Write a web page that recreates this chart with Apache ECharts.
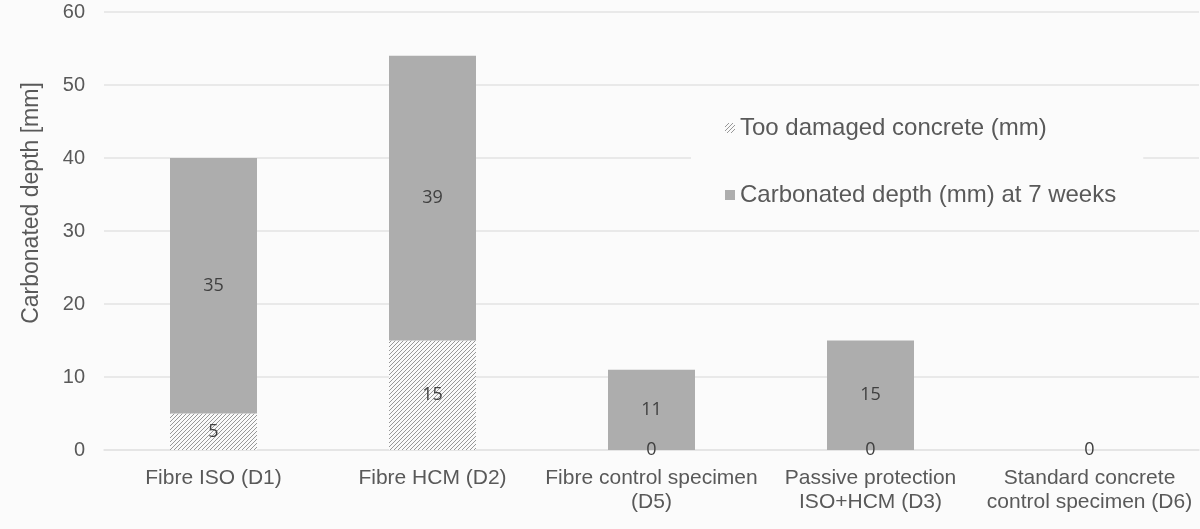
<!DOCTYPE html>
<html>
<head>
<meta charset="utf-8">
<script src="https://cdn.jsdelivr.net/npm/echarts@6/dist/echarts.min.js"></script>
<style>
html,body{margin:0;padding:0;background:#fbfbfb;}
#c{width:1200px;height:529px;}
</style>
</head>
<body>
<div id="c"></div>
<script>
const categories = ['Fibre ISO (D1)', 'Fibre HCM (D2)', 'Fibre control specimen\n(D5)', 'Passive protection\nISO+HCM (D3)', 'Standard concrete\ncontrol specimen (D6)'];
const damagedValues = [5, 15, 0, 0, 0];
const carbonatedValues = [35, 39, 11, 15, 0];
const seriesNames = ['Too damaged concrete (mm)', 'Carbonated depth (mm) at 7 weeks'];
const yTicks = {min: 0, max: 60, interval: 10};

function hatch() {
  const c = document.createElement('canvas');
  c.width = 4; c.height = 4;
  const g = c.getContext('2d');
  g.fillStyle = '#fafafa';
  g.fillRect(0, 0, 4, 4);
  g.strokeStyle = '#8c8c8c';
  g.lineWidth = 0.9;
  g.beginPath();
  g.moveTo(-1, 5); g.lineTo(5, -1);
  g.moveTo(-1, 1); g.lineTo(1, -1);
  g.moveTo(3, 5); g.lineTo(5, 3);
  g.stroke();
  return c;
}

const chart = echarts.init(document.getElementById('c'));
const labelStyle = {show: true, position: 'inside', color: '#404040', fontSize: 18, fontFamily: 'Open Sans'};
chart.setOption({
  backgroundColor: '#fbfbfb',
  animation: false,
  grid: {left: 104, right: 1, top: 12, bottom: 79},
  legend: {
    orient: 'vertical',
    left: 691, top: 100,
    padding: [16, 27, 10, 34],
    backgroundColor: '#fbfbfb',
    itemGap: 43,
    itemWidth: 10, itemHeight: 10,
    icon: 'rect',
    textStyle: {fontSize: 24, color: '#595959', fontFamily: 'Liberation Sans'},
    data: seriesNames
  },
  xAxis: {
    type: 'category',
    data: categories,
    axisTick: {show: false},
    axisLine: {lineStyle: {color: '#e3e3e3', width: 1.5}},
    axisLabel: {color: '#595959', fontSize: 21, fontFamily: 'Liberation Sans', lineHeight: 24, margin: 16, interval: 0}
  },
  yAxis: {
    type: 'value',
    min: yTicks.min, max: yTicks.max, interval: yTicks.interval,
    name: 'Carbonated depth [mm]',
    nameLocation: 'middle',
    nameGap: 61,
    nameTextStyle: {color: '#595959', fontSize: 23, fontFamily: 'Liberation Sans', padding: [0, 0, 0, 56]},
    axisLabel: {color: '#595959', fontSize: 20, fontFamily: 'Liberation Sans', margin: 19},
    splitLine: {lineStyle: {color: '#e3e3e3', width: 1.5}},
    axisLine: {show: false},
    axisTick: {show: false}
  },
  series: [
    {
      name: seriesNames[0], type: 'bar', stack: 'a', barWidth: 87,
      data: damagedValues,
      itemStyle: {color: {image: hatch(), repeat: 'repeat'}},
      label: labelStyle,
      labelLayout: {hideOverlap: true}
    },
    {
      name: seriesNames[1], type: 'bar', stack: 'a', barWidth: 87,
      data: carbonatedValues,
      itemStyle: {color: '#adadad'},
      label: labelStyle,
      labelLayout: {hideOverlap: true}
    }
  ]
});
</script>
</body>
</html>
